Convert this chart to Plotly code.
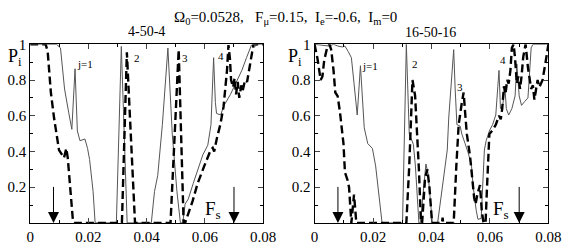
import plotly.graph_objects as go

# ---------------- data ----------------
# Left panel "4-50-4"
xL_solid = [0, 0.009, 0.0104, 0.011, 0.0118, 0.0132, 0.0143, 0.0154, 0.0162, 0.0171, 0.0188, 0.0197,
            0.0204, 0.0216, 0.0223, 0.0296, 0.0313, 0.0333, 0.0416, 0.0427, 0.0438, 0.0454, 0.0466,
            0.0473, 0.0488, 0.0504, 0.0516, 0.0524, 0.0532, 0.0543, 0.056, 0.0577, 0.0593, 0.061,
            0.0621, 0.0627, 0.063, 0.0636, 0.064, 0.0654, 0.0666, 0.0688, 0.071, 0.0727, 0.0743,
            0.076, 0.077, 0.078, 0.08]
yL_solid = [1, 1, 0.98, 0.86, 0.75, 0.62, 0.524, 0.863, 0.515, 0.46, 0.47, 0.417,
            0.355, 0.177, 0, 0, 0.988, 0, 0, 0.176, 0.266, 0.55, 0.818,
            0.979, 0.497, 0.176, 0, 0, 0.105, 0.134, 0.221, 0.301, 0.381, 0.435,
            0.55, 0.80, 0.925, 0.675, 0.613, 0.604, 0.658, 0.72, 0.80, 0.854, 0.925,
            0.996, 0.985, 1, 1]

xL_dash = [0, 0.0053, 0.006, 0.0071, 0.0082, 0.0099, 0.0116, 0.0124, 0.0129, 0.0138, 0.0147, 0.0153,
           0.0315, 0.0332, 0.036, 0.0482, 0.051, 0.0527, 0.0532, 0.0558, 0.0575, 0.0598, 0.062,
           0.0627, 0.0632, 0.0642, 0.0653, 0.0664, 0.067, 0.0676, 0.0681, 0.0686, 0.069, 0.0697,
           0.0702, 0.0707, 0.0713, 0.0718, 0.0725, 0.073, 0.0738, 0.0745, 0.0767, 0.08]
yL_dash = [1, 1, 0.96, 0.73, 0.587, 0.408, 0.364, 0.417, 0.364, 0.194, 0.007, 0,
           0, 0.955, 0, 0, 0.97, 0, 0, 0.123, 0.221, 0.319, 0.408,
           0.42, 0.40, 0.48, 0.55, 0.649, 0.747, 0.854, 0.996, 0.92, 0.80, 0.76,
           0.81, 0.72, 0.79, 0.70, 0.77, 0.74, 0.80, 0.79, 1, 1]

# Right panel "16-50-16"
xR_solid = [0, 0.003, 0.005, 0.0065, 0.008, 0.0095, 0.0104, 0.0115, 0.0126, 0.0135, 0.0146, 0.0157,
            0.0165, 0.017, 0.0182, 0.0198, 0.0209, 0.022, 0.0231, 0.0301, 0.0314, 0.0324, 0.0331,
            0.0338, 0.0345, 0.0352, 0.0357, 0.0362, 0.0372, 0.0381, 0.0388, 0.0396, 0.0403, 0.0421,
            0.0432, 0.0443, 0.0454, 0.0459, 0.0467, 0.0476, 0.0481, 0.0487, 0.0498, 0.0504, 0.0515,
            0.0526, 0.0537, 0.0542, 0.0553, 0.0559, 0.057, 0.0575, 0.0581, 0.0587, 0.0598, 0.0609,
            0.062, 0.0627, 0.0631, 0.0636, 0.0644, 0.0651, 0.0656, 0.0664, 0.0675, 0.0686, 0.0692,
            0.07, 0.0708, 0.0719, 0.073, 0.0741, 0.0747, 0.0791, 0.08]
yR_solid = [1, 0.995, 0.99, 1, 0.99, 0.985, 0.99, 0.96, 0.925, 0.782, 0.604, 0.88,
            0.675, 0.533, 0.444, 0.417, 0.319, 0.141, 0, 0, 1.0, 0.50, 0.47,
            0.44, 0.319, 0.105, 0, 0, 0.2, 0.33, 0.28, 0.1, 0, 0,
            0.141, 0.283, 0.408, 0.587, 0.765, 0.97, 0.75, 0.55, 0.542, 0.497, 0.444,
            0.39, 0.319, 0.212, 0.07, 0.02, 0.025, 0.176, 0.408, 0.46, 0.515, 0.55,
            0.604, 0.765, 0.854, 0.64, 0.66, 0.765, 0.64, 0.604, 0.64, 0.711, 0.89,
            0.711, 0.658, 0.68, 0.70, 0.98, 1, 1, 1]

xR_dash = [0, 0.001, 0.0021, 0.0027, 0.0033, 0.0043, 0.0051, 0.0057, 0.0065, 0.0071, 0.0079, 0.0087,
           0.0099, 0.0104, 0.0113, 0.0118, 0.0126, 0.0135, 0.0143, 0.0314, 0.0324, 0.0335, 0.0344,
           0.0351, 0.0357, 0.0364, 0.0368, 0.0378, 0.0386, 0.0393, 0.0402, 0.0436, 0.0438, 0.044,
           0.0476, 0.0485, 0.0493, 0.0504, 0.051, 0.0515, 0.0521, 0.0532, 0.0537, 0.0546, 0.0551,
           0.0557, 0.0566, 0.0572, 0.0578, 0.0585, 0.059, 0.0598, 0.0609, 0.062, 0.0631, 0.0637,
           0.0642, 0.0648, 0.0653, 0.0659, 0.0664, 0.067, 0.0675, 0.0681, 0.0686, 0.0692, 0.0697,
           0.0703, 0.0708, 0.0714, 0.0722, 0.073, 0.0741, 0.0747, 0.0752, 0.0763, 0.0769, 0.078,
           0.0791, 0.0797, 0.08]
yR_dash = [1, 0.92, 0.80, 0.82, 0.91, 0.98, 1, 0.97, 0.854, 0.73, 0.71, 0.62,
           0.444, 0.283, 0.239, 0.2, 0, 0.159, 0, 0, 0.32, 0.80, 0.711,
           0.497, 0.3, 0, 0, 0.25, 0.30, 0.2, 0, 0, 0.03, 0,
           0, 0.319, 0.55, 0.675, 0.73, 0.62, 0.497, 0.373, 0.283, 0.141, 0.105,
           0.16, 0.212, 0.07, 0, 0, 0.20, 0.497, 0.52, 0.55, 0.60, 0.58,
           0.64, 0.765, 0.72, 0.80, 0.78, 0.854, 0.98, 1, 0.92, 0.78, 0.82,
           0.75, 0.82, 0.93, 1, 0.87, 0.75, 0.77, 0.69, 0.80, 0.76, 0.80,
           0.907, 0.98, 1]

# labels
title_text = "Ω<sub>0</sub>=0.0528,   F<sub>μ</sub>=0.15,  I<sub>e</sub>=-0.6,  I<sub>m</sub>=0"
panel_titles = ["4-50-4", "16-50-16"]
x_tickvals = [0, 0.02, 0.04, 0.06, 0.08]
x_ticktext = ["0", "0.02", "0.04", "0.06", "0.08"]
y_tickvals = [0, 0.2, 0.4, 0.6, 0.8, 1]
y_ticktext = ["", "0.2", "0.4", "0.6", "0.8", "1"]
arrow_x = [0.008, 0.07]
arrow_top = 0.21
left_labels = [("j=1", 0.0187, 0.89), ("2", 0.0367, 0.925), ("3", 0.053, 0.925), ("4", 0.0657, 0.935)]
right_labels = [("j=1", 0.0189, 0.88), ("2", 0.0345, 0.89), ("3", 0.0498, 0.76), ("4", 0.0644, 0.91)]
fs_pos = [0.0627, 0.0637]

FONT = "Liberation Serif, Times New Roman, serif"
SOLID_C = "#555555"

fig = go.Figure()
panels = [(xL_solid, yL_solid, xL_dash, yL_dash, "x", "y"),
          (xR_solid, yR_solid, xR_dash, yR_dash, "x2", "y2")]
for xs, ys, xd, yd, xa, ya in panels:
    fig.add_trace(go.Scatter(x=xs, y=ys, mode="lines", xaxis=xa, yaxis=ya,
                             line=dict(color=SOLID_C, width=1), showlegend=False, hoverinfo="skip"))
    fig.add_trace(go.Scatter(x=xd, y=yd, mode="lines", xaxis=xa, yaxis=ya,
                             line=dict(color="black", width=2.4, dash="8px,4px"),
                             showlegend=False, hoverinfo="skip"))

xdoms = [[27 / 575, 267 / 575], [320 / 575, 561 / 575]]
ydom = [20 / 245, 207 / 245]

def xaxis_cfg(dom, anchor):
    return dict(domain=dom, anchor=anchor, range=[0, 0.08], tickmode="array",
                tickvals=x_tickvals, ticktext=x_ticktext, ticks="inside", ticklen=5,
                mirror="allticks", showline=True, linecolor="black", linewidth=1,
                showgrid=False, zeroline=False,
                minor=dict(tickmode="linear", tick0=0, dtick=0.01, ticklen=3, ticks="inside",
                           tickcolor="black"),
                tickfont=dict(family=FONT, size=15, color="black"))

def yaxis_cfg(anchor):
    return dict(domain=ydom, anchor=anchor, range=[0, 1], tickmode="array",
                tickvals=y_tickvals, ticktext=y_ticktext, ticks="inside", ticklen=5,
                mirror="allticks", showline=True, linecolor="black", linewidth=1,
                showgrid=False, zeroline=False,
                minor=dict(tickmode="linear", tick0=0, dtick=0.1, ticklen=3, ticks="inside",
                           tickcolor="black"),
                tickfont=dict(family=FONT, size=15, color="black"))

fig.update_layout(
    width=575, height=245, margin=dict(l=0, r=0, t=0, b=0),
    paper_bgcolor="white", plot_bgcolor="white",
    xaxis=xaxis_cfg(xdoms[0], "y"), yaxis=yaxis_cfg("x"),
    xaxis2=xaxis_cfg(xdoms[1], "y2"), yaxis2=yaxis_cfg("x2"),
    font=dict(family=FONT, color="black"),
)

ann = []
ann.append(dict(text=title_text, x=290 / 575, y=1 - 10 / 245, xref="paper", yref="paper",
                showarrow=False, font=dict(size=15, family=FONT), xanchor="center", yanchor="middle"))
ann.append(dict(text=panel_titles[0], x=147 / 575, y=1 - 25 / 245, xref="paper", yref="paper",
                showarrow=False, font=dict(size=14, family=FONT), xanchor="center", yanchor="middle"))
ann.append(dict(text=panel_titles[1], x=440 / 575, y=1 - 26 / 245, xref="paper", yref="paper",
                showarrow=False, font=dict(size=14, family=FONT), xanchor="center", yanchor="middle"))
for px in [11, 300]:
    ann.append(dict(text="P<sub>i</sub>", x=px / 575, y=1 - 52 / 245, xref="paper", yref="paper",
                    showarrow=False, font=dict(size=18, family=FONT), xanchor="center", yanchor="middle"))

for labels, xr, yr in [(left_labels, "x", "y"), (right_labels, "x2", "y2")]:
    for t, lx, ly in labels:
        ann.append(dict(text=t, x=lx, y=ly, xref=xr, yref=yr, showarrow=False,
                        font=dict(size=11, family=FONT), xanchor="center", yanchor="middle"))

for i, (xr, yr) in enumerate([("x", "y"), ("x2", "y2")]):
    ann.append(dict(text="F<sub>s</sub>", x=fs_pos[i], y=0.07, xref=xr, yref=yr, showarrow=False,
                    font=dict(size=19, family=FONT), xanchor="center", yanchor="middle"))
    for ax_ in arrow_x:
        ann.append(dict(text="", x=ax_, y=0.0, ax=ax_, ay=arrow_top, xref=xr, yref=yr,
                        axref=xr, ayref=yr, showarrow=True, arrowhead=2, arrowsize=2.2,
                        arrowwidth=1, arrowcolor="black", standoff=0))

fig.update_layout(annotations=ann)
fig.write_html("out.html", config={"displayModeBar": False},
               post_script="document.body.style.margin='0';document.body.style.padding='0';")
